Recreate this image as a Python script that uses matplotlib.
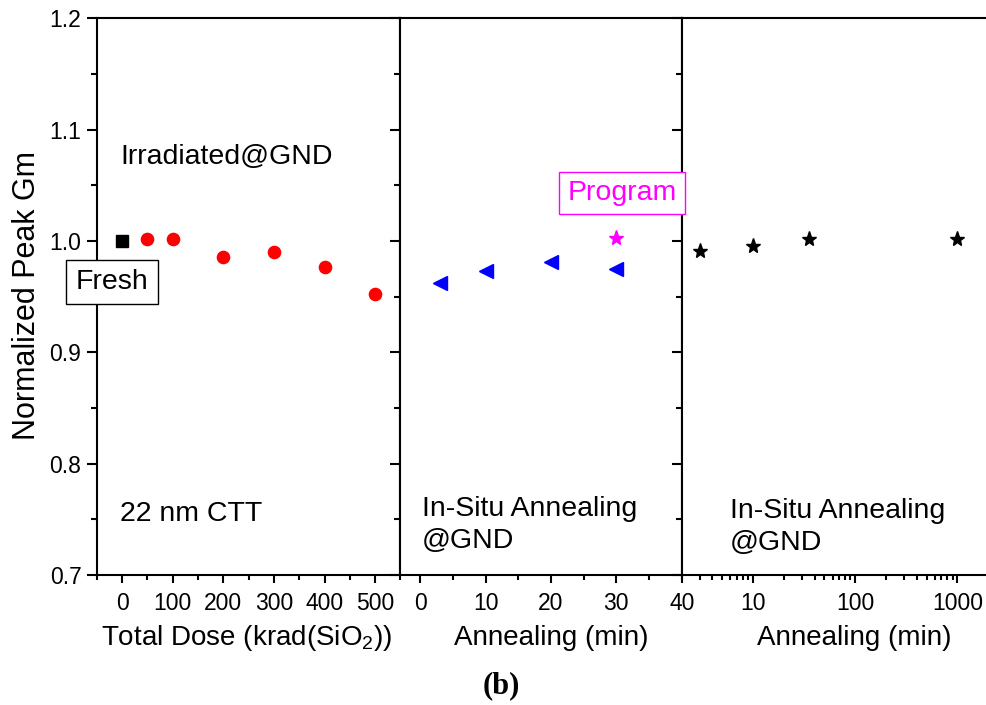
import numpy as np
import matplotlib
matplotlib.use("Agg")
import matplotlib.pyplot as plt
from matplotlib.ticker import MultipleLocator, FixedLocator, NullFormatter, LogLocator

plt.rcParams['font.family'] = ['Liberation Sans', 'DejaVu Sans']
plt.rcParams['mathtext.fontset'] = 'custom'
plt.rcParams['mathtext.rm'] = 'Liberation Sans'

# Fresh reference point
fresh_dose = [0]
fresh_gm = [1.000]

# Irradiation at GND
dose = [50, 100, 200, 300, 400, 500]
gm_dose = [1.002, 1.002, 0.986, 0.990, 0.977, 0.952]

# In-situ annealing (linear time)
anneal_t = [3, 10, 20, 30]
gm_anneal = [0.962, 0.973, 0.981, 0.975]

# After program
program_t = [30]
gm_program = [1.003]

# In-situ annealing (log time)
anneal_long_t = [3, 10, 35, 1000]
gm_anneal_long = [0.991, 0.9955, 1.0015, 1.0015]

W, H = 987, 705
fig = plt.figure(figsize=(W / 100, H / 100), dpi=100)

y_top, y_bot = 18.3, 575.0
def axes_px(x0, x1):
    return fig.add_axes([x0 / W, 1 - y_bot / H, (x1 - x0) / W, (y_bot - y_top) / H])

ax1 = axes_px(96.7, 400.5)
ax2 = axes_px(400.5, 681.7)
ax3 = axes_px(681.7, 988.0)

tick_fs = 16.5
label_fs = 20
note_fs = 20.5
lw = 1.5

for ax in (ax1, ax2, ax3):
    ax.set_ylim(0.7, 1.2)
    ax.yaxis.set_major_locator(MultipleLocator(0.1))
    ax.yaxis.set_minor_locator(MultipleLocator(0.05))
    for s in ax.spines.values():
        s.set_linewidth(lw)
    ax.tick_params(axis='y', which='major', direction='out', length=7.5, width=lw,
                   labelsize=tick_fs, left=True, right=False)
    ax.tick_params(axis='y', which='minor', direction='out', length=4.5, width=lw,
                   left=True, right=False)
    ax.tick_params(axis='x', which='major', direction='out', length=6, width=lw,
                   labelsize=tick_fs, pad=6, top=False)
    ax.tick_params(axis='x', which='minor', direction='out', length=3.5, width=lw, top=False)

ax2.tick_params(axis='y', labelleft=False)
ax3.tick_params(axis='y', labelleft=False)
ax3.spines['right'].set_visible(False)
ax1.yaxis.set_major_formatter(matplotlib.ticker.FormatStrFormatter('%.1f'))

# Panel 1: total dose
ax1.set_xlim(-50, 550)
ax1.xaxis.set_major_locator(FixedLocator([0, 100, 200, 300, 400, 500]))
ax1.xaxis.set_minor_locator(MultipleLocator(50))
ax1.plot(fresh_dose, fresh_gm, ls='none', marker='s', ms=8, color='black')
ax1.plot(dose, gm_dose, ls='none', marker='o', ms=8.8, color='#ff0000')

# Panel 2: annealing, linear time
ax2.set_xlim(-3, 40)
ax2.xaxis.set_major_locator(FixedLocator([0, 10, 20, 30, 40]))
ax2.xaxis.set_minor_locator(MultipleLocator(5))
ax2.plot(anneal_t, gm_anneal, ls='none', marker='<', ms=10, color='#0000ff')
ax2.plot(program_t, gm_program, ls='none', marker='*', ms=11, color='#ff00ff')

# Panel 3: annealing, log time
ax3.set_xscale('log')
ax3.set_xlim(2, 2000)
ax3.xaxis.set_major_locator(FixedLocator([10, 100, 1000]))
ax3.xaxis.set_minor_locator(LogLocator(base=10, subs=np.arange(2, 10), numticks=20))
ax3.xaxis.set_minor_formatter(NullFormatter())
ax3.xaxis.set_major_formatter(matplotlib.ticker.FixedFormatter(['10', '100', '1000']))
ax3.plot(anneal_long_t, gm_anneal_long, ls='none', marker='*', ms=11, color='black')

# Axis titles
fig.text(27 / W, 1 - 296 / H, 'Normalized Peak Gm', rotation=90, ha='center', va='center',
         fontsize=22)
fig.text(247 / W, 1 - 638 / H, 'Total Dose (krad(SiO$_2$))', ha='center', va='center',
         fontsize=label_fs)
fig.text(551 / W, 1 - 638 / H, 'Annealing (min)', ha='center', va='center', fontsize=label_fs)
fig.text(854 / W, 1 - 638 / H, 'Annealing (min)', ha='center', va='center', fontsize=label_fs)
fig.text(501 / W, 1 - 686 / H, '(b)', ha='center', va='center', fontsize=22,
         fontweight='bold', family='Liberation Serif')

# Annotations
fig.text(120 / W, 1 - 157 / H, 'Irradiated@GND', ha='left', va='center', fontsize=note_fs)
fig.text(120 / W, 1 - 514 / H, '22 nm CTT', ha='left', va='center', fontsize=note_fs)
fig.text(112 / W, 1 - 282 / H, 'Fresh', ha='center', va='center', fontsize=note_fs,
         bbox=dict(boxstyle='square,pad=0.33', fc='white', ec='black', lw=1.0))
fig.text(622 / W, 1 - 193 / H, 'Program', ha='center', va='center', fontsize=note_fs,
         color='#ff00ff',
         bbox=dict(boxstyle='square,pad=0.28', fc='white', ec='#ff00ff', lw=1.0))
fig.text(422 / W, 1 - 525 / H, 'In-Situ Annealing\n@GND', ha='left', va='center',
         fontsize=note_fs, linespacing=1.3)
fig.text(730 / W, 1 - 527 / H, 'In-Situ Annealing\n@GND', ha='left', va='center',
         fontsize=note_fs, linespacing=1.3)

fig.savefig('out.png', dpi=100)
